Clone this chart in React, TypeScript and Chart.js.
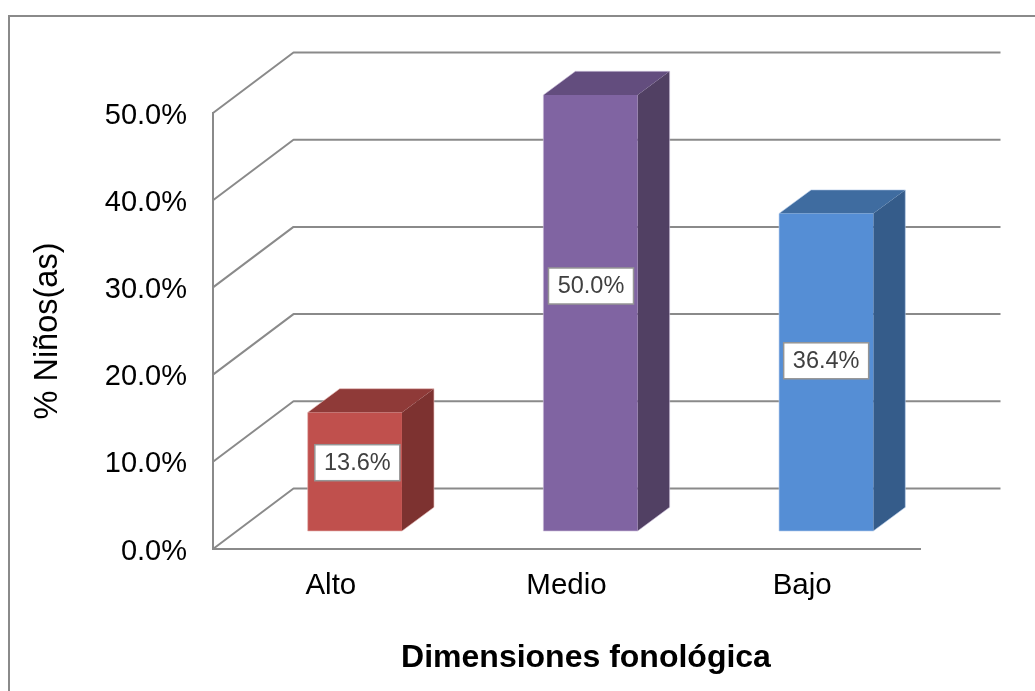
import React, { useEffect, useRef } from "react";
import { Chart, registerables } from "chart.js";

Chart.register(...registerables);

const categories = ["Alto", "Medio", "Bajo"];
const values = [13.6, 50.0, 36.4];
const frontColors = ["#C0504D", "#8064A2", "#558ED5"];
const sideColors = ["#7D3230", "#514063", "#355C8A"];
const topColors = ["#8F3A38", "#634D7E", "#3F6CA0"];
const edgeColors = ["rgba(227,181,179,0.6)", "rgba(203,190,219,0.6)", "rgba(181,205,235,0.6)"];
const labelShiftX = [2.5, 0.5, 0];
const labelShiftY = [-9, -27, -11.5];
const yTickValues = [0, 10, 20, 30, 40, 50];

const yAxisTitle = "% Niños(as)";
const xAxisTitle = "Dimensiones fonológica";

const FONT = '"Liberation Sans", Arial, sans-serif';
const GRID = "#8A8A8A";
const WALL_DX = 80.5;
const WALL_DY = -60.5;
const BAR_DX = 24;
const BAR_DY = -18;
const BAR_DEPTH_X = 32;
const BAR_DEPTH_Y = -23.7;

const perspective = {
  id: "perspective",
  beforeDraw(chart: any) {
    const { ctx } = chart;
    ctx.save();
    ctx.strokeStyle = GRID;
    ctx.lineWidth = 2;
    ctx.beginPath();
    ctx.moveTo(9, 691);
    ctx.lineTo(9, 16);
    ctx.lineTo(1035, 16);
    ctx.stroke();
    ctx.restore();
  },
  beforeDatasetsDraw(chart: any) {
    const { ctx, chartArea, scales } = chart;
    ctx.save();
    ctx.strokeStyle = GRID;
    ctx.lineWidth = 2;
    ctx.lineJoin = "round";
    for (const v of yTickValues) {
      const y = scales.y.getPixelForValue(v);
      ctx.beginPath();
      ctx.moveTo(chartArea.left, y);
      ctx.lineTo(chartArea.left + WALL_DX, y + WALL_DY);
      ctx.lineTo(chartArea.right + WALL_DX, y + WALL_DY);
      ctx.stroke();
    }
    ctx.restore();

    ctx.save();
    ctx.translate(BAR_DX, BAR_DY);
    const bars = chart.getDatasetMeta(0).data;
    bars.forEach((bar: any, i: number) => {
      const r = bar.x + bar.width / 2;
      const l = bar.x - bar.width / 2;
      const t = bar.y;
      const b = bar.base;
      ctx.fillStyle = sideColors[i];
      ctx.beginPath();
      ctx.moveTo(r, t);
      ctx.lineTo(r + BAR_DEPTH_X, t + BAR_DEPTH_Y);
      ctx.lineTo(r + BAR_DEPTH_X, b + BAR_DEPTH_Y);
      ctx.lineTo(r, b);
      ctx.closePath();
      ctx.fill();
      ctx.fillStyle = topColors[i];
      ctx.beginPath();
      ctx.moveTo(l, t);
      ctx.lineTo(l + BAR_DEPTH_X, t + BAR_DEPTH_Y);
      ctx.lineTo(r + BAR_DEPTH_X, t + BAR_DEPTH_Y);
      ctx.lineTo(r, t);
      ctx.closePath();
      ctx.fill();
    });
  },
  afterDatasetsDraw(chart: any) {
    const { ctx } = chart;
    const bars = chart.getDatasetMeta(0).data;
    bars.forEach((bar: any, i: number) => {
      const r = bar.x + bar.width / 2;
      const l = bar.x - bar.width / 2;
      const t = bar.y;
      const b = bar.base;
      ctx.strokeStyle = edgeColors[i];
      ctx.lineWidth = 1;
      ctx.beginPath();
      ctx.moveTo(l, b);
      ctx.lineTo(l, t);
      ctx.lineTo(l + BAR_DEPTH_X, t + BAR_DEPTH_Y);
      ctx.lineTo(r + BAR_DEPTH_X, t + BAR_DEPTH_Y);
      ctx.lineTo(r + BAR_DEPTH_X, b + BAR_DEPTH_Y);
      ctx.lineTo(r, b);
      ctx.closePath();
      ctx.stroke();
    });
    bars.forEach((bar: any, i: number) => {
      const cx = bar.x + labelShiftX[i];
      const cy = (bar.y + bar.base) / 2 + labelShiftY[i];
      const w = 85;
      const h = 36;
      ctx.fillStyle = "#FFFFFF";
      ctx.fillRect(cx - w / 2, cy - h / 2, w, h);
      ctx.strokeStyle = "#959595";
      ctx.lineWidth = 1.5;
      ctx.strokeRect(cx - w / 2, cy - h / 2, w, h);
      ctx.fillStyle = "#404040";
      ctx.font = `23.5px ${FONT}`;
      ctx.textAlign = "center";
      ctx.textBaseline = "middle";
      ctx.fillText(values[i].toFixed(1) + "%", cx, cy + 1);
    });
    ctx.restore();
  },
};

export default function App() {
  const ref = useRef<HTMLCanvasElement | null>(null);
  useEffect(() => {
    if (!ref.current) return;
    const chart = new Chart(ref.current, {
      type: "bar",
      data: {
        labels: categories,
        datasets: [
          {
            label: "% Niños(as)",
            data: values,
            backgroundColor: frontColors,
            borderWidth: 0,
            barPercentage: 0.4,
            categoryPercentage: 1,
          },
        ],
      },
      options: {
        responsive: false,
        animation: false,
        devicePixelRatio: 1,
        layout: { padding: { left: 0, top: 113, right: 115, bottom: 0 } },
        plugins: { legend: { display: false }, tooltip: { enabled: false }, title: { display: false } },
        scales: {
          x: {
            grid: { display: false, drawTicks: false },
            border: { display: true, color: GRID, width: 2 },
            ticks: { color: "#000000", font: { family: FONT, size: 29.5 }, padding: 19 },
            title: {
              display: true,
              text: xAxisTitle,
              color: "#000000",
              font: { family: FONT, size: 32, weight: "bold" },
              padding: { top: 0, bottom: 14 },
            },
            afterFit(s: any) {
              s.height = 142;
            },
            afterUpdate(s: any) {
              const draw = s.drawTitle;
              s.drawTitle = function () {
                s.ctx.save();
                s.ctx.translate(19.5, 0);
                draw.call(s);
                s.ctx.restore();
              };
            },
          },
          y: {
            min: 0,
            max: 50,
            afterBuildTicks(s: any) {
              s.ticks = yTickValues.map((value) => ({ value }));
            },
            grid: { display: false, drawTicks: false },
            border: { display: true, color: GRID, width: 2 },
            ticks: {
              color: "#000000",
              font: { family: FONT, size: 29 },
              padding: 26,
              labelOffset: 2.5,
              callback: (v: any) => Number(v).toFixed(1) + "%",
            },
            title: {
              display: true,
              text: yAxisTitle,
              color: "#000000",
              font: { family: FONT, size: 32.5 },
              padding: { top: 29, bottom: 0 },
            },
            afterFit(s: any) {
              s.width = 213;
            },
          },
        },
      },
      plugins: [perspective],
    } as any);
    return () => chart.destroy();
  }, []);
  return (
    <div style={{ position: "absolute", left: 0, top: 0, width: 1035, height: 691, background: "#fff" }}>
      <canvas ref={ref} width={1035} height={691} style={{ display: "block" }} />
    </div>
  );
}
